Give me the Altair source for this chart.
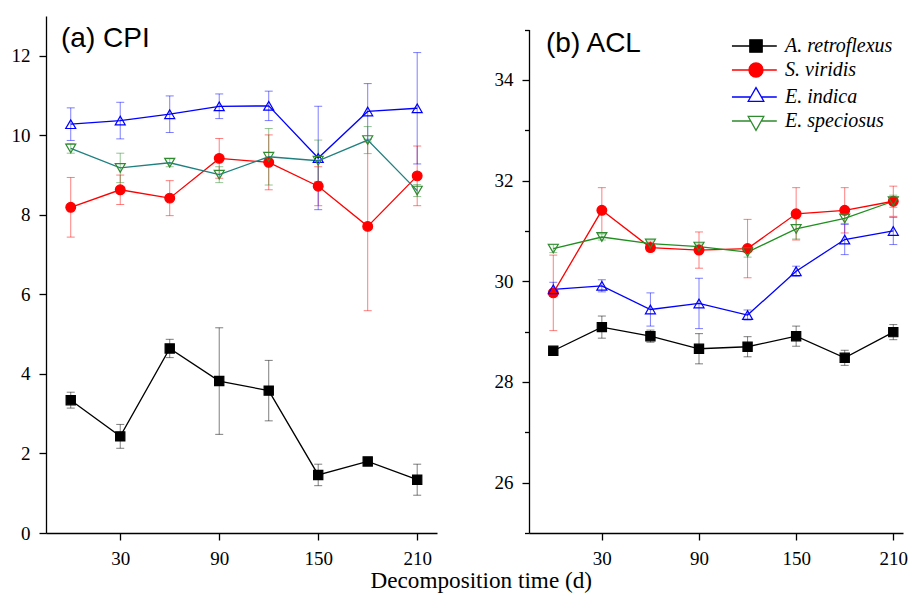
import altair as alt
import pandas as pd

species = ["A. retroflexus", "S. viridis", "E. indica", "E. speciosus"]
days = [0, 30, 60, 90, 120, 150, 180, 210]
x_ticks = [30, 90, 150, 210]

# (a) CPI
cpi_retro = [3.34, 2.43, 4.64, 3.82, 3.58, 1.46, 1.80, 1.34]
cpi_retro_err = [0.20, 0.30, 0.23, 1.34, 0.76, 0.27, 0.05, 0.39]
cpi_viridis = [8.19, 8.63, 8.42, 9.42, 9.32, 8.72, 7.71, 8.98]
cpi_viridis_err = [0.75, 0.37, 0.44, 0.50, 0.69, 0.49, 2.12, 0.75]
cpi_indica = [10.28, 10.37, 10.53, 10.73, 10.74, 9.43, 10.60, 10.68]
cpi_indica_err = [0.41, 0.46, 0.46, 0.31, 0.37, 1.30, 0.70, 1.40]
cpi_speciosus = [9.67, 9.18, 9.31, 9.01, 9.46, 9.36, 9.88, 8.61]
cpi_speciosus_err = [0.12, 0.37, 0.10, 0.20, 0.71, 0.52, 0.34, 0.15]

# (b) ACL
acl_retro = [28.62, 29.09, 28.91, 28.66, 28.70, 28.91, 28.48, 28.99]
acl_retro_err = [0.03, 0.22, 0.12, 0.30, 0.20, 0.20, 0.15, 0.15]
acl_viridis = [29.77, 31.41, 30.67, 30.62, 30.65, 31.34, 31.41, 31.59]
acl_viridis_err = [0.75, 0.45, 0.08, 0.36, 0.58, 0.52, 0.45, 0.30]
acl_indica = [29.84, 29.91, 29.44, 29.56, 29.33, 30.20, 30.83, 31.00]
acl_indica_err = [0.14, 0.12, 0.33, 0.50, 0.10, 0.10, 0.30, 0.27]
acl_speciosus = [30.65, 30.88, 30.75, 30.69, 30.58, 31.04, 31.25, 31.59]
acl_speciosus_err = [0.08, 0.06, 0.05, 0.05, 0.10, 0.20, 0.10, 0.12]

cpi_ticks = list(range(0, 14))
acl_ticks = list(range(25, 36))

point_colors = ["#000000", "#ff0000", "#0000ff", "#2e8b2e"]
fill_colors = ["#000000", "#ff0000", "transparent", "transparent"]
shapes = ["square", "circle", "triangle-up", "triangle-down"]
point_sizes = [85, 95, 100, 100]
cpi_line_colors = ["#000000", "#ff0000", "#0000ff", "#1f8080"]
acl_line_colors = ["#000000", "#ff0000", "#0000ff", "#1f8f1f"]

# legend symbols: line + marker (unit square coordinates)
legend_paths = [
    "M-3.7,0H-0.95M0.95,0H3.2M-0.95,-0.95H0.95V0.95H-0.95Z",
    "M-3.7,0H-1.08M1.08,0H3.2M1.08,0A1.08,1.08,0,1,1,-1.08,0A1.08,1.08,0,1,1,1.08,0Z",
    "M-3.7,0H-0.82M0.82,0H3.2M0,-1.45L1.2,0.66L-1.2,0.66Z",
    "M-3.7,0H-0.81M0.81,0H3.2M0,1.45L1.2,-0.7L-1.2,-0.7Z",
]


def build(vals, errs):
    rows = []
    for sp, v, e in zip(species, vals, errs):
        for d, vv, ee in zip(days, v, e):
            rows.append({"day": d, "species": sp, "value": vv,
                         "lo": vv - ee, "hi": vv + ee})
    return pd.DataFrame(rows)


cpi_df = build([cpi_retro, cpi_viridis, cpi_indica, cpi_speciosus],
               [cpi_retro_err, cpi_viridis_err, cpi_indica_err, cpi_speciosus_err])
acl_df = build([acl_retro, acl_viridis, acl_indica, acl_speciosus],
               [acl_retro_err, acl_viridis_err, acl_indica_err, acl_speciosus_err])

PLOT_H = 517


def panel(df, xdom, ydom, yvals, line_colors, label, lx, ly, width, ytop, leg):
    xenc = alt.X("day:Q", scale=alt.Scale(domain=xdom, nice=False, zero=False),
                 axis=alt.Axis(values=x_ticks, title=None, grid=False))
    yaxis = alt.Axis(values=yvals, title=None, grid=False,
                     labelExpr="datum.value % 2 == 1 ? '' : datum.label",
                     tickSize={"condition": {"test": "datum.value % 2 == 1", "value": 4.5},
                               "value": 7})
    yscale = alt.Scale(domain=ydom, nice=False, zero=False, range=[PLOT_H, ytop])
    sscale = alt.Scale(domain=species, range=point_colors)
    fscale = alt.Scale(domain=species, range=fill_colors)
    base = alt.Chart(df)
    err = base.mark_rule(strokeWidth=1, opacity=0.5).encode(
        x=xenc, y=alt.Y("lo:Q", scale=yscale, axis=yaxis), y2="hi:Q",
        stroke=alt.Stroke("species:N", scale=sscale, legend=leg))
    cap_lo = base.mark_rule(strokeWidth=1, opacity=0.5, xOffset=-4, x2Offset=4).encode(
        x="day:Q", x2="day:Q", y="lo:Q",
        stroke=alt.Stroke("species:N", scale=sscale, legend=leg))
    cap_hi = base.mark_rule(strokeWidth=1, opacity=0.5, xOffset=-4, x2Offset=4).encode(
        x="day:Q", x2="day:Q", y="hi:Q",
        stroke=alt.Stroke("species:N", scale=sscale, legend=leg))
    line = base.mark_line(strokeWidth=1.3).encode(
        x="day:Q", y="value:Q",
        color=alt.Color("species:N", scale=alt.Scale(domain=species, range=line_colors),
                        legend=None))
    layers = [err, cap_lo, cap_hi, line]
    for sp, sh, sz in zip(species, shapes, point_sizes):
        layers.append(
            base.transform_filter(alt.datum.species == sp)
            .mark_point(shape=sh, size=sz, strokeWidth=1.2, opacity=1)
            .encode(x="day:Q", y="value:Q",
                    stroke=alt.Stroke("species:N", scale=sscale, legend=leg),
                    fill=alt.Fill("species:N", scale=fscale, legend=leg)))
    if leg is not None:
        layers.append(
            base.transform_filter("false").mark_point(opacity=1, strokeWidth=1.3)
            .encode(x="day:Q", y="value:Q",
                    stroke=alt.Stroke("species:N", scale=sscale, legend=leg),
                    fill=alt.Fill("species:N", scale=fscale, legend=leg),
                    shape=alt.Shape("species:N",
                                    scale=alt.Scale(domain=species, range=legend_paths),
                                    legend=leg)))
    txt = alt.Chart(pd.DataFrame({"label": [label]})).mark_text(
        align="left", baseline="alphabetic", font="Liberation Sans",
        fontSize=28, color="black").encode(
        x=alt.value(lx), y=alt.value(ly), text="label:N")
    layers.append(txt)
    return alt.layer(*layers).properties(width=width, height=PLOT_H)


legend = alt.Legend(
    title=None, orient="none", legendX=217, legendY=20, padding=0,
    labelFont="Liberation Serif", labelFontSize=20, labelFontStyle="italic",
    labelColor="black", symbolSize=169, symbolStrokeWidth=1.3, symbolOpacity=1,
    labelOffset=19, rowPadding=4)

left = panel(cpi_df, [-15, 222], [0, 13], cpi_ticks, cpi_line_colors,
             "(a) CPI", 15, 31, 391, 0, None)
right = panel(acl_df, [-15, 216], [25, 35], acl_ticks, acl_line_colors,
              "(b) ACL", 17, 36, 374, 13.6, legend)

chart = alt.hconcat(left, right, spacing=57).resolve_scale(
    x="independent", y="independent", stroke="independent",
    fill="independent", shape="independent", color="independent"
).properties(
    title=alt.TitleParams("Decomposition time (d)", orient="bottom", anchor="middle",
                          font="Liberation Serif", fontSize=23.2, fontWeight="normal",
                          color="black", offset=2, dx=22),
    padding={"left": 3, "top": 8, "right": 0, "bottom": 0},
).configure_view(stroke=None).configure_axis(
    labelFont="Liberation Serif", labelFontSize=19, labelColor="black",
    domainColor="black", tickColor="black", domainWidth=1.3, tickWidth=1.3,
    labelPadding=9, tickSize=7,
)

chart.save("out.html", embed_options={"renderer": "svg", "actions": False})
